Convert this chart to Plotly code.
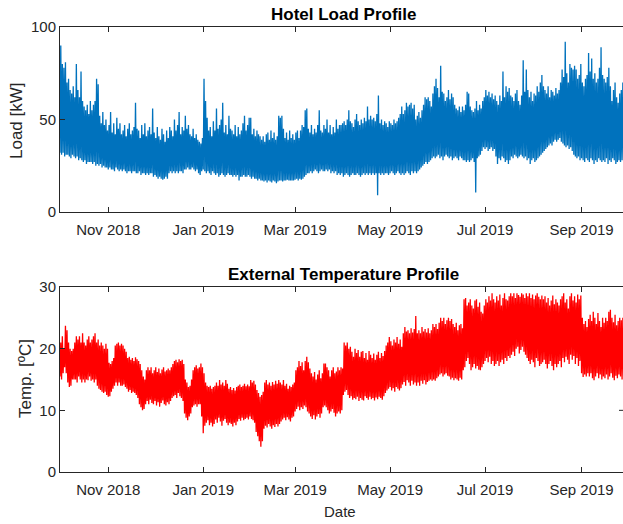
import pandas as pd
import plotly.graph_objects as go

# Daily extremes, one value per day starting 1 Oct 2018
start_date = "2018-10-01"

load_low = [
    32, 31, 32, 30, 31, 31, 30, 29, 31, 30,
    29, 30, 28, 29, 28, 27, 28, 26, 27, 27,
    27, 26, 27, 25, 26, 25, 26, 24, 25, 24,
    24, 23, 24, 23, 23, 22, 24, 23, 22, 23,
    22, 23, 22, 21, 22, 22, 21, 22, 22, 21,
    21, 22, 20, 21, 21, 20, 21, 20, 21, 21,
    19, 20, 19, 18, 19, 18, 17.5, 18, 19, 18,
    21, 22, 21, 22, 21, 22, 21, 22, 22, 21,
    23, 23, 24, 23, 23, 24, 23, 22, 23, 21,
    20, 22, 23, 22, 21, 22, 21, 20, 22, 21,
    20, 21, 19, 20, 21, 20, 19, 20, 21, 20,
    20, 19, 20, 19, 20, 17, 19, 19, 20, 19,
    19, 20, 19, 18, 19, 18, 18, 17, 18, 17,
    17, 16.5, 17, 16, 17, 16.5, 16, 17, 16.5, 15.5,
    16.5, 17, 17, 16.5, 17, 17, 17.5, 17, 17, 17,
    17, 17.5, 18, 17, 18, 17.5, 18, 19, 20, 21,
    21, 22, 21, 22, 23, 22, 21, 22, 23, 22,
    22, 23, 22, 23, 21, 22, 21, 22, 20, 21,
    20, 21, 19, 20, 21, 20, 19, 20, 21, 20,
    20, 21, 20, 19, 20, 21, 20, 21, 20, 21,
    20, 21, 20, 21, 9, 21, 20, 21, 20, 21,
    21, 20, 21, 22, 21, 20, 21, 22, 21, 20,
    21, 20, 21, 22, 21, 20, 22, 21, 22, 21,
    22, 23, 24, 25, 26, 27, 26, 27, 28, 29,
    30, 29, 30, 31, 29, 30, 28, 30, 31, 30,
    29, 30, 28, 29, 30, 29, 28, 30, 29, 28,
    28, 27, 28, 27, 28, 29, 27, 10.5, 29, 30,
    31, 33, 35, 34, 35, 33, 34, 35, 33, 34,
    30, 26, 29, 28, 30, 29, 27, 28, 26, 28,
    30, 29, 31, 30, 29, 30, 31, 30, 29, 30,
    28, 29, 26, 28, 29, 27, 28, 29, 30, 31,
    32, 33, 34, 35, 36, 37, 36, 38, 39, 38,
    39, 40, 38, 37, 36, 35, 36, 34, 35, 33,
    31, 30, 29, 30, 28, 29, 28, 27, 29, 28,
    27, 29, 28, 26, 28, 27, 29, 28, 27, 28,
    27, 29, 26, 28, 27, 29, 28, 26, 27, 28,
    27, 28, 29, 27, 28,
]

load_high = [
    90, 80, 78, 81, 70, 72, 66, 64, 68, 62,
    80, 66, 62, 76, 60, 57, 55, 58, 53, 60,
    55, 58, 60, 72, 69, 52, 48, 54, 47, 50,
    44, 47, 54, 43, 48, 42, 51, 45, 48, 42,
    44, 47, 41, 45, 48, 42, 44, 46, 59, 45,
    44, 40, 47, 42, 48, 41, 44, 46, 42, 56,
    43, 40, 46, 41, 39, 45, 42, 38, 44, 40,
    46, 44, 41, 50, 44, 47, 54, 42, 46, 44,
    52, 45, 47, 42, 41, 45, 40, 42, 39, 38,
    37, 40, 72, 60, 51, 44, 46, 41, 49, 44,
    56, 45, 47, 50, 59, 43, 47, 42, 52, 45,
    44, 42, 47, 41, 46, 42, 44, 48, 52, 44,
    47, 51, 51, 42, 45, 41, 44, 42, 41, 39,
    41, 38, 42, 43, 39, 44, 40, 43, 39, 41,
    52, 51, 52, 45, 40, 43, 39, 44, 40, 42,
    39, 43, 44, 40, 44, 47, 46, 55, 56, 45,
    43, 47, 42, 45, 43, 47, 55, 44, 43, 47,
    45, 50, 43, 47, 42, 46, 43, 50, 45, 47,
    47, 48, 49, 47, 50, 55, 49, 48, 46, 50,
    53, 49, 47, 50, 48, 51, 49, 57, 50, 52,
    50, 51, 49, 53, 63, 48, 50, 47, 49, 48,
    46, 49, 48, 47, 50, 48, 49, 51, 53, 57,
    53, 55, 59, 57, 58, 59, 56, 58, 50, 52,
    54, 51, 55, 58, 62, 61, 62, 60, 57, 64,
    68, 72, 67, 62, 79, 65, 64, 60, 62, 66,
    61, 64, 62, 58, 56, 55, 57, 54, 57, 55,
    58, 65, 64, 57, 55, 54, 56, 60, 55, 58,
    56, 60, 62, 66, 63, 65, 62, 64, 61, 63,
    60, 58, 63, 60, 76, 62, 68, 65, 67, 63,
    62, 60, 64, 66, 60, 58, 63, 82, 65, 77,
    66, 62, 65, 60, 64, 63, 68, 65, 70, 74,
    68, 66, 64, 68, 62, 66, 65, 63, 67, 64,
    66, 70, 77, 73, 92, 75, 70, 80, 78, 77,
    79, 77, 72, 74, 80, 70, 68, 72, 74, 86,
    76, 83, 72, 75, 70, 72, 78, 89, 74, 72,
    70, 73, 78, 68, 60, 66, 70, 62, 59, 64,
    66, 70, 64, 62, 65,
]

temp_low = [
    15.5, 15, 16, 17, 16, 14.5, 13.8, 14, 15, 15,
    15, 14.5, 15.5, 15, 14.5, 15, 14.5, 15, 14.9, 15.5,
    14.8, 15, 14.5, 15, 14, 13.5, 13.3, 13, 12.8, 13,
    12.5, 12.2, 12.3, 13, 13.5, 14, 14.5, 14, 14.5, 14,
    14, 14.2, 13.8, 13.5, 13, 13.3, 12.8, 13, 12.8, 12.5,
    12, 11, 10.5, 10, 10.2, 11, 11.5, 11, 11.7, 11.2,
    11, 11.5, 10.8, 11.3, 10.6, 11.2, 11.6, 11, 10.8, 11.3,
    11, 11.5, 12, 12.3, 12.5, 12, 12.8, 12.3, 12, 11.5,
    9.5, 8.8, 8.4, 9, 9.5, 10.5, 10.8, 11, 10.6, 11,
    11, 9, 6.3, 7.5, 8, 8.4, 7.6, 8, 7.4, 7.8,
    8.5, 8, 8.8, 8.2, 7.5, 8.3, 8.6, 8, 7.6, 8,
    7.8, 7.4, 8, 7.6, 8.2, 8.6, 8.3, 8.8, 8.4, 8.6,
    8.8, 8.5, 9, 8.6, 8.4, 8, 6.5, 5.8, 5, 4.1,
    5, 7, 7.5, 7.2, 7.8, 7.4, 7, 7.6, 7.3, 7.8,
    7.4, 7.8, 8.2, 8.5, 8.8, 8.4, 8.9, 8.5, 8.2, 8.8,
    9, 9.8, 10.2, 10.6, 10, 10.5, 10.2, 10.8, 10.5, 9.8,
    9.5, 9, 8.6, 9.2, 8.5, 9, 9.4, 8.8, 9.5, 10.5,
    10.8, 10.5, 10, 9.5, 9.8, 10.2, 9.6, 9, 9.5, 9.8,
    9.5, 10, 12.5, 13, 13.3, 12.5, 12, 12.3, 11.7, 12,
    11.8, 12.2, 11.5, 12, 11.7, 11.6, 12.3, 12, 11.7, 12.2,
    11.8, 12, 11.6, 12.1, 11.8, 12.2, 12, 11.7, 12.3, 12.8,
    13.2, 13.5, 13.8, 13.2, 13.6, 13, 13.8, 13.5, 13.2, 13.6,
    14.2, 14.6, 14, 14.9, 14.5, 14, 14.8, 14.2, 14.5, 14,
    14.5, 14, 14.8, 14.3, 14.9, 14.2, 14.6, 14.8, 15, 14.8,
    15, 14.8, 15.2, 15.5, 15.8, 16, 15.5, 15.8, 16, 15.6,
    15.5, 15, 15.3, 14.9, 15.2, 15, 14.8, 15.3, 15, 16.5,
    17, 18, 18.5, 17.5, 16.5, 17, 17.5, 16.8, 17.2, 16.6,
    16.5, 17, 17.5, 18, 18.5, 17.8, 18.7, 17.5, 18, 17.2,
    17.5, 18, 17.2, 17.8, 18.2, 17.5, 18.5, 18, 18.8, 18.5,
    19, 19.5, 18.8, 20, 20.3, 19.2, 19.8, 20.3, 19.5, 19,
    18.5, 18, 17.5, 18.2, 17.8, 17, 18.5, 18, 17.2, 17.5,
    17.8, 18.2, 17.5, 16.8, 17.5, 18, 17.2, 16.5, 17.5, 17,
    17.5, 18, 17, 18.5, 17.8, 18.7, 18.2, 17.5, 19, 18.2,
    18.8, 17.5, 18.5, 17.2, 18, 16, 15.4, 15.8, 15.5, 16,
    15.5, 16, 15.2, 14.9, 15.5, 16, 15.2, 15.8, 15, 15.5,
    15.2, 15.8, 15, 15.5, 16, 15.3, 14.9, 15.6, 15.2, 15.8,
    15.5, 15, 15.6, 15.2, 15.4,
]

temp_high = [
    21, 22, 20, 23.7, 23, 21, 20, 19.6, 20, 21,
    22, 21.5, 22, 21, 22.5, 21, 20.5, 21.5, 22, 21,
    21.5, 22, 22.5, 21, 21.5, 20.5, 21, 20.5, 20, 20.8,
    20, 17.7, 17.5, 18, 18.5, 20.5, 20.8, 21, 20.5, 20.8,
    20.5, 20, 19.5, 18.5, 18.7, 18.2, 18.5, 18, 18.6, 18.3,
    18, 17.5, 16.5, 15.5, 15, 16.5, 17, 16.5, 17, 16,
    16.5, 17, 16.2, 16.8, 16, 16.6, 17, 16.3, 16.5, 16.8,
    16.5, 17, 17.5, 18, 18.2, 17.8, 18.3, 18, 18.2, 17.5,
    15, 14.5, 13.8, 14, 15, 16.5, 17, 17.3, 16.8, 17,
    17.6, 17, 16, 14.5, 14, 13.8, 14, 13.5, 13.8, 14,
    14.5, 14, 14.9, 14.2, 14.5, 14, 14.9, 14.3, 13.5, 13.8,
    13.3, 13.6, 13.2, 13.8, 14, 14.2, 13.8, 14, 14.3, 13.9,
    14.2, 13.9, 14.9, 14.5, 14.8, 14.2, 13.3, 12.8, 12.2, 12.5,
    13, 14.5, 14.9, 14.2, 14.5, 14, 14.6, 14.2, 14.8, 14.3,
    14.9, 14.5, 14.2, 14.9, 14, 14.3, 13.5, 14, 13.8, 14.2,
    14.5, 16.5, 17, 18, 17.2, 17.8, 16.5, 18, 18.7, 17.8,
    16.8, 16, 15.5, 16.2, 15, 15.8, 16.5, 15.2, 16, 17.6,
    17.6, 17, 16.5, 15.5, 16.5, 17, 16, 16.3, 17, 16.5,
    17, 16.8, 21, 20.5, 21, 20, 20.3, 19.5, 18.7, 20,
    19.3, 19.8, 18.7, 19.5, 19.6, 18.5, 19.3, 18.2, 19.6, 19,
    18.5, 19.2, 18.2, 19, 19.5, 18.5, 19.3, 18.8, 19.6, 20.5,
    21, 21.9, 21.2, 20.5, 21.5, 21, 21.9, 20.8, 21.5, 20.3,
    22.5, 23.5, 22.8, 23, 22.5, 23.3, 22.6, 23.2, 25.3, 22.5,
    23, 22.5, 23.5, 22.8, 23.2, 22.6, 23.3, 22.5, 23, 24,
    23.5, 24, 23.2, 24.2, 25, 24.5, 25, 24, 24.6, 25,
    24.5, 24.8, 24, 23.5, 24.2, 23, 23.8, 24, 23.3, 28,
    28.2, 27, 27.5, 28, 27, 26.5, 27.8, 28, 26.8, 27.5,
    26, 25.7, 27, 28, 27.5, 28.5, 27.8, 29, 28, 27.5,
    28.5, 27.8, 28.8, 27, 28.2, 29, 28, 27.8, 28.5, 29,
    28.5, 29, 28.2, 29, 28.7, 28.4, 29, 28.8, 28.2, 29,
    28.5, 29, 28.2, 28.8, 28, 28.6, 29, 28.4, 28, 28.6,
    28, 28.5, 27.5, 28.2, 27, 27.8, 28.6, 27.2, 28, 27.5,
    27, 28, 28.5, 29, 27.5, 28, 26.5, 28.5, 29, 27.8,
    28.5, 27.5, 28.8, 28, 28.6, 25, 24, 24.5, 23.5, 24.8,
    25.5, 24.5, 26, 25, 24, 25.8, 24.5, 23.5, 25, 24.2,
    25, 24.5, 26, 26.3, 25, 24.3, 25.5, 23.8, 24.5, 25,
    24.6, 25, 24.2, 24.8, 24,
]

tick_dates = ["2018-11-01", "2019-01-01", "2019-03-01",
              "2019-05-01", "2019-07-01", "2019-09-01"]
tick_text = ["Nov 2018", "Jan 2019", "Mar 2019",
             "May 2019", "Jul 2019", "Sep 2019"]

W, H = 623, 524
AX = "#262626"
FONT = "Liberation Sans, Arial, Helvetica, sans-serif"


def daily_trace(lows, highs, low_hour, high_hour):
    """Join each day's minimum and maximum into one continuous line."""
    days = pd.date_range(start_date, periods=len(lows), freq="D")
    xs, ys = [], []
    for d, lo, hi in zip(days, lows, highs):
        xs += [d + pd.Timedelta(hours=low_hour), d + pd.Timedelta(hours=high_hour)]
        ys += [lo, hi]
    return xs, ys


x_load, y_load = daily_trace(load_low, load_high, 0, 12)
x_temp, y_temp = daily_trace(temp_low, temp_high, 0, 12)

x_start = pd.Timestamp(start_date)
x_end = x_start + pd.Timedelta(days=361.6)


def py(p):
    return 1 - p / H


fig = go.Figure()
fig.add_trace(go.Scatter(x=x_load, y=y_load, mode="lines",
                         line=dict(color="#0072BD", width=1.3),
                         xaxis="x", yaxis="y", showlegend=False))
fig.add_trace(go.Scatter(x=x_temp, y=y_temp, mode="lines",
                         line=dict(color="#FF0000", width=1.3),
                         xaxis="x2", yaxis="y2", showlegend=False))

common_x = dict(range=[x_start, x_end], tickvals=tick_dates, ticktext=tick_text,
                ticks="inside", ticklen=5, tickwidth=1, tickcolor=AX,
                showline=True, linecolor=AX, linewidth=1, mirror="ticks",
                showgrid=False, zeroline=False, automargin=False,
                ticklabelstandoff=4,
                tickfont=dict(family=FONT, size=15, color=AX))
common_y = dict(ticks="inside", ticklen=5, tickwidth=1, tickcolor=AX,
                showline=True, linecolor=AX, linewidth=1, mirror=False,
                showgrid=False, zeroline=False, automargin=False,
                tickfont=dict(family=FONT, size=15, color=AX))

fig.update_layout(
    width=W, height=H,
    margin=dict(l=0, r=0, t=0, b=0),
    paper_bgcolor="white", plot_bgcolor="white",
    xaxis=dict(domain=[60 / W, 1], anchor="y", **common_x),
    yaxis=dict(domain=[py(212), py(27)], anchor="x", range=[0, 100],
               tickvals=[0, 50, 100], **common_y),
    xaxis2=dict(domain=[60 / W, 1], anchor="y2", **common_x),
    yaxis2=dict(domain=[py(472), py(287)], anchor="x2", range=[0, 30],
                tickvals=[0, 10, 20, 30], **common_y),
)

# right-hand tick of the lower box
fig.add_shape(type="line", xref="paper", yref="y2",
              x0=(W - 4) / W, x1=1, y0=10, y1=10,
              line=dict(color=AX, width=1))

cx = (60 + 626) / 2 / W
labels = [
    ("<b>Hotel Load Profile</b>", cx, 15, 0, 17, "black"),
    ("<b>External Temperature Profile</b>", cx, 274, 0, 17, "black"),
    ("Load [kW]", 16 / W, 121, -90, 17, AX),
    ("Temp. [ºC]", 25 / W, 379, -90, 17, AX),
    ("Date", 340 / W, 511, 0, 15, AX),
]
for text, x, ypix, angle, size, color in labels:
    fig.add_annotation(text=text, x=x, y=py(ypix), textangle=angle,
                       xref="paper", yref="paper", showarrow=False,
                       xanchor="center", yanchor="middle",
                       font=dict(family=FONT, size=size, color=color))

fig.write_html("out.html")
